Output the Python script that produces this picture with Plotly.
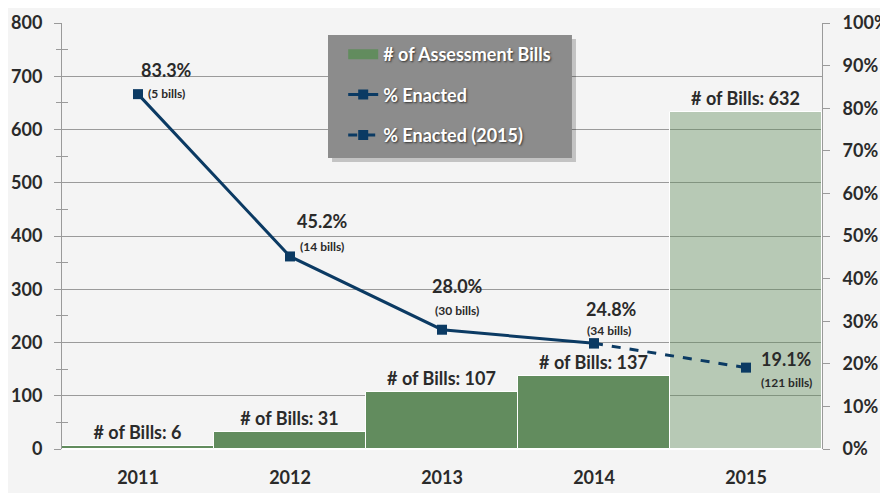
import plotly.graph_objects as go

years = ["2011", "2012", "2013", "2014", "2015"]
bills = [6, 31, 107, 137, 632]
pct_enacted = [0.833, 0.452, 0.280, 0.248]
pct_years = ["2011", "2012", "2013", "2014"]
pct_2015_years = ["2014", "2015"]
pct_2015 = [0.248, 0.191]
pct_labels = ["83.3%", "45.2%", "28.0%", "24.8%", "19.1%"]
enacted_counts = ["(5 bills)", "(14 bills)", "(30 bills)", "(34 bills)", "(121 bills)"]
left_ticks = [0, 100, 200, 300, 400, 500, 600, 700, 800]
left_minor = [50, 150, 250, 350, 450, 550, 650, 750]
right_ticks = [0, 0.1, 0.2, 0.3, 0.4, 0.5, 0.6, 0.7, 0.8, 0.9, 1.0]

# label offsets in pixels (style)
pct_shift = [(28, 24), (32, 35), (15, 44), (17, 34), (40, 9)]
cnt_shift = [(28, 1), (32, 10), (15, 19), (15, 13), (40, -15)]

FONT = "Lato, sans-serif"
TXT = "#2a2a2a"
NAVY = "#0b3a63"
GREEN = "#628c5e"
AX = "#9a9a9a"

bar_colors = [GREEN] * 4 + ["rgba(98,140,94,0.42)"]


def f(size, color=TXT, **kw):
    return dict(family=FONT, size=size, color=color, weight="bold", **kw)


fig = go.Figure()
# legend swatch for bars (wide rectangle)
fig.add_trace(go.Scatter(
    x=[None], y=[None], mode="lines", name="# of Assessment Bills",
    line=dict(color=GREEN, width=10), legendgroup="a", hoverinfo="skip",
))
fig.add_trace(go.Bar(
    x=years, y=bills, name="# of Assessment Bills", showlegend=False,
    marker=dict(color=bar_colors, line=dict(color="white", width=1)),
    width=1.0,
    text=[f"# of Bills: {b}" for b in bills],
    textposition="outside", cliponaxis=False,
    textfont=f(18),
    legendgroup="a",
))
fig.add_trace(go.Scatter(
    x=pct_years, y=pct_enacted, yaxis="y2", name="% Enacted",
    mode="lines+markers", line=dict(color=NAVY, width=3),
    marker=dict(symbol="square", size=10, color=NAVY),
    legendgroup="b",
))
fig.add_trace(go.Scatter(
    x=pct_2015_years, y=pct_2015, yaxis="y2", name="% Enacted (2015)",
    mode="lines+markers", line=dict(color=NAVY, width=3, dash="dash"),
    marker=dict(symbol="square", size=10, color=NAVY),
    legendgroup="c",
))
# invisible trace on y3 to carry crossing minor ticks
fig.add_trace(go.Scatter(x=[None], y=[None], yaxis="y3", showlegend=False, hoverinfo="skip"))

all_y = pct_enacted + [pct_2015[-1]]
ann = []
for i, yv in enumerate(all_y):
    ann.append(dict(x=i, y=yv, xref="x", yref="y2", text=pct_labels[i],
                    showarrow=False, xshift=pct_shift[i][0], yshift=pct_shift[i][1],
                    font=f(18)))
    ann.append(dict(x=i, y=yv, xref="x", yref="y2", text=enacted_counts[i],
                    showarrow=False, xshift=cnt_shift[i][0], yshift=cnt_shift[i][1],
                    font=f(12)))

fig.update_layout(
    width=880, height=485,
    margin=dict(l=54, r=66, t=15, b=44, autoexpand=False),
    paper_bgcolor="#f4f4f4", plot_bgcolor="rgba(0,0,0,0)",
    font=dict(family=FONT, color=TXT),
    bargap=0,
    showlegend=True,
    legend=dict(x=0.37, y=0.9695, xanchor="left", yanchor="top",
                bgcolor="rgba(0,0,0,0)", borderwidth=0,
                font=f(18, "white", shadow="1px 1px 2px #333333"),
                traceorder="grouped", tracegroupgap=14, itemwidth=30),
    shapes=[
        dict(type="rect", xref="paper", yref="paper",
             x0=0.3553, x1=0.6763, y0=0.6737, y1=0.9624,
             fillcolor="rgba(0,0,0,0.2)", line=dict(width=0), layer="above"),
        dict(type="rect", xref="paper", yref="paper",
             x0=0.35, x1=0.671, y0=0.683, y1=0.972,
             fillcolor="#8c8c8c", line=dict(width=0), layer="above"),
    ],
    annotations=ann,
    xaxis=dict(type="category", tickfont=f(18), ticklabelstandoff=16, automargin=False,
               showline=False, ticks="", range=[-0.5, 4.5]),
    yaxis=dict(range=[0, 800], tickvals=left_ticks, showgrid=True, gridcolor=AX,
               gridwidth=1, showline=True, linecolor=AX, ticks="outside",
               ticklen=7, tickcolor=AX, zeroline=True, zerolinecolor=AX,
               tickfont=f(18), ticklabelstandoff=8, automargin=False,
               minor=dict(tickvals=left_minor, ticks="outside", ticklen=5, tickcolor=AX, showgrid=False)),
    yaxis3=dict(range=[0, 800], overlaying="y", side="left", tickvals=left_minor,
                showticklabels=False, ticks="inside", ticklen=6, tickcolor=AX, automargin=False,
                showgrid=False, showline=False, zeroline=False),
    yaxis2=dict(range=[0, 1.0], overlaying="y", side="right", tickvals=right_ticks,
                tickformat=".0%", showgrid=False, showline=True, linecolor=AX,
                ticks="outside", ticklen=7, tickcolor=AX, ticklabelstandoff=9, automargin=False,
                tickfont=f(18)),
)

fig.write_html("out.html")
